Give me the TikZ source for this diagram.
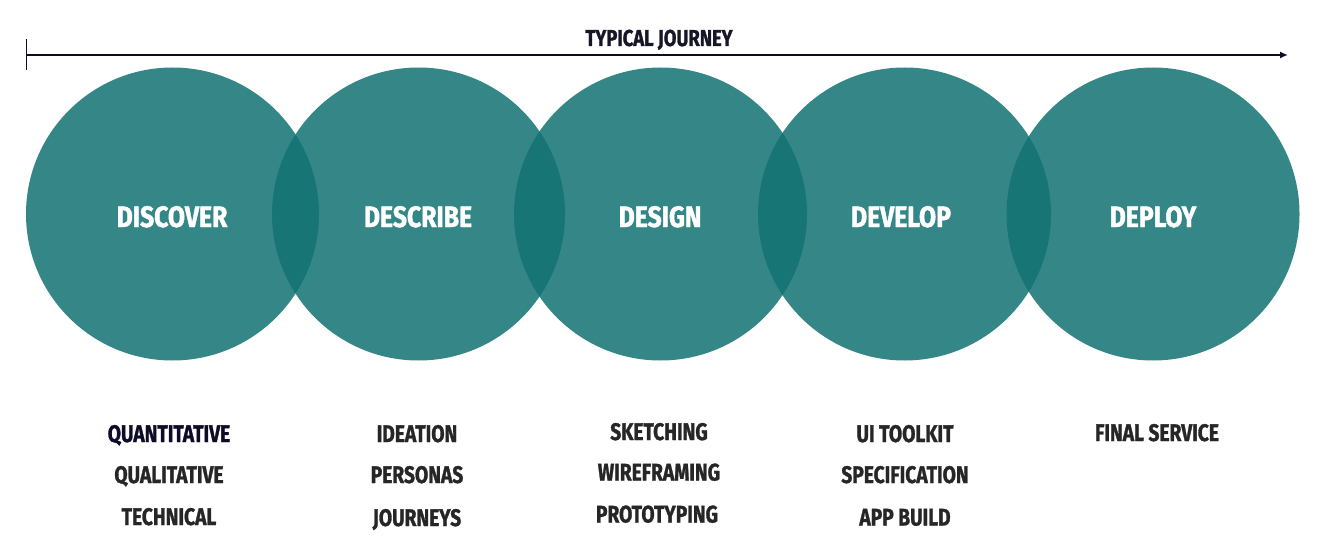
\documentclass[tikz,border=0pt]{standalone}
\usepackage{fontspec}
\setmainfont{Fira Sans}
\newfontfamily\condfont{Fira Sans}[FakeStretch=0.8, FakeBold=1.2]
\newfontfamily\headfont{Fira Sans}[FakeStretch=0.84, FakeBold=1.4]
\usetikzlibrary{arrows.meta}
\definecolor{teal}{RGB}{18,114,114}
\definecolor{navy}{RGB}{12,12,40}
\definecolor{ink}{RGB}{38,38,38}
\begin{document}
\begin{tikzpicture}[x=1pt,y=-1pt,
  phase/.style={circle, fill=teal, fill opacity=0.85, minimum size=293pt, inner sep=0pt},
  phaselabel/.style={anchor=base, text=white, font=\headfont\bfseries\fontsize{29.5}{29.5}\selectfont},
  item/.style={anchor=base, text=ink, font=\condfont\bfseries\fontsize{24}{24}\selectfont},
  journey/.style={line width=1.8pt, draw=navy}]
\useasboundingbox (0,0) rectangle (1327,548);

% the five overlapping phase circles
\node[phase] (c1) at (172.5,214) {};
\node[phase] (c2) at (418.5,214) {};
\node[phase] (c3) at (660.5,214) {};
\node[phase] (c4) at (904.5,214) {};
\node[phase] (c5) at (1153,214) {};

% phase names
\node[phaselabel] (l1) at (172,227) {DISCOVER};
\node[phaselabel] (l2) at (418,227) {DESCRIBE};
\node[phaselabel] (l3) at (660,227) {DESIGN};
\node[phaselabel] (l4) at (901,227) {DEVELOP};
\node[phaselabel] (l5) at (1153,227) {DEPLOY};

% timeline arrow
\coordinate (tstart) at (26.5,55);
\coordinate (tend) at (1288,55);
\coordinate (ttop) at (26.5,39);
\coordinate (tbot) at (26.5,70);
\draw[journey] (ttop) -- (tbot);
\draw[journey, -{Latex[length=8pt,width=7pt]}] (tstart) -- (tend);
\node[anchor=base, text=navy!60!ink, font=\condfont\bfseries\fontsize{23}{23}\selectfont] (title) at (659,46) {TYPICAL JOURNEY};

% activities of each phase
\node[item, text=navy] (a1) at (169,442) {QUANTITATIVE};
\node[item] (a2) at (169,483) {QUALITATIVE};
\node[item] (a3) at (169,525) {TECHNICAL};

\node[item] (b1) at (417,442) {IDEATION};
\node[item] (b2) at (417,483) {PERSONAS};
\node[item] (b3) at (417,526) {JOURNEYS};

\node[item] (d1) at (659,440) {SKETCHING};
\node[item] (d2) at (659,480.5) {WIREFRAMING};
\node[item] (d3) at (657,522.5) {PROTOTYPING};

\node[item] (e1) at (905,442) {UI TOOLKIT};
\node[item] (e2) at (905,483) {SPECIFICATION};
\node[item] (e3) at (905,525.5) {APP BUILD};

\node[item] (f1) at (1157,441) {FINAL SERVICE};
\end{tikzpicture}
\end{document}
